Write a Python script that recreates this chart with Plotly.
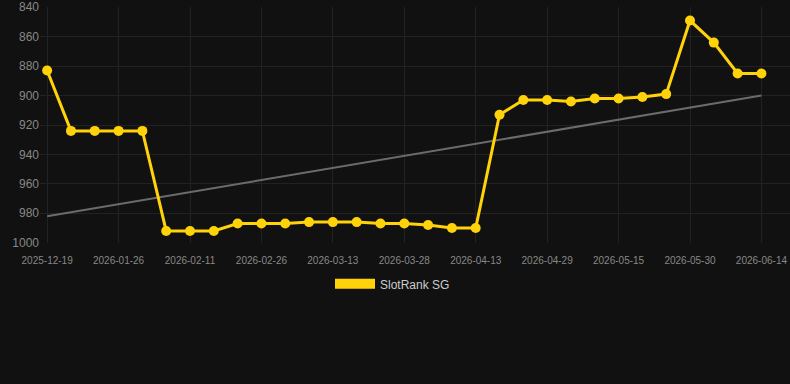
import plotly.graph_objects as go

dates = ["2025-12-19", "2025-12-31", "2026-01-13", "2026-01-26", "2026-01-31",
         "2026-02-05", "2026-02-11", "2026-02-16", "2026-02-21", "2026-02-26",
         "2026-03-03", "2026-03-08", "2026-03-13", "2026-03-18", "2026-03-23",
         "2026-03-28", "2026-04-02", "2026-04-07", "2026-04-13", "2026-04-18",
         "2026-04-23", "2026-04-29", "2026-05-04", "2026-05-09", "2026-05-15",
         "2026-05-20", "2026-05-25", "2026-05-30", "2026-06-04", "2026-06-09",
         "2026-06-14"]
rank = [883, 924, 924, 924, 924,
        992, 992, 992, 987, 987,
        987, 986, 986, 986, 987,
        987, 988, 990, 990, 913,
        903, 903, 904, 902, 902,
        901, 899, 849, 864, 885,
        885]
trend_x = [dates[0], dates[-1]]
trend_y = [982, 900]
tick_labels = dates[::3]
y_ticks = [840, 860, 880, 900, 920, 940, 960, 980, 1000]

yellow = "#FFD20A"

fig = go.Figure()
fig.add_trace(go.Scatter(x=trend_x, y=trend_y, mode="lines",
                         line=dict(color="#6b6b6b", width=2),
                         showlegend=False, hoverinfo="skip"))
fig.add_trace(go.Scatter(x=dates, y=rank, mode="lines+markers",
                         line=dict(color=yellow, width=3),
                         marker=dict(color=yellow, size=10),
                         name="SlotRank SG", showlegend=False))
fig.add_trace(go.Scatter(x=[None], y=[None], mode="lines",
                         line=dict(color=yellow, width=11),
                         name="SlotRank SG", showlegend=True))

fig.update_layout(
    width=790, height=384,
    paper_bgcolor="#111111", plot_bgcolor="#111111",
    margin=dict(l=40, r=0, t=7, b=141),
    font=dict(family="Liberation Sans, Arial, sans-serif", color="#888888"),
    legend=dict(orientation="h", x=0.47, xanchor="center", y=-0.173, yanchor="middle",
                itemwidth=40,
                font=dict(size=12, color="#cccccc"), bgcolor="rgba(0,0,0,0)"),
    xaxis=dict(type="category", categoryorder="array", categoryarray=dates,
               range=[-0.3, 31.2], tickmode="array", tickvals=tick_labels,
               ticktext=tick_labels, tickfont=dict(size=10, color="#888888"),
               showgrid=True, gridcolor="#222222", gridwidth=1,
               zeroline=False, showline=False, automargin=False,
               ticks="outside", ticklen=8, tickcolor="rgba(0,0,0,0)"),
    yaxis=dict(range=[1000.2, 839.8], tickmode="array",
               tickvals=y_ticks, ticktext=[str(v) for v in y_ticks],
               tickfont=dict(size=12, color="#888888"),
               showgrid=True, gridcolor="#222222", gridwidth=1,
               zeroline=False, showline=False, ticks="", automargin=False),
)

fig.write_html("out.html")
